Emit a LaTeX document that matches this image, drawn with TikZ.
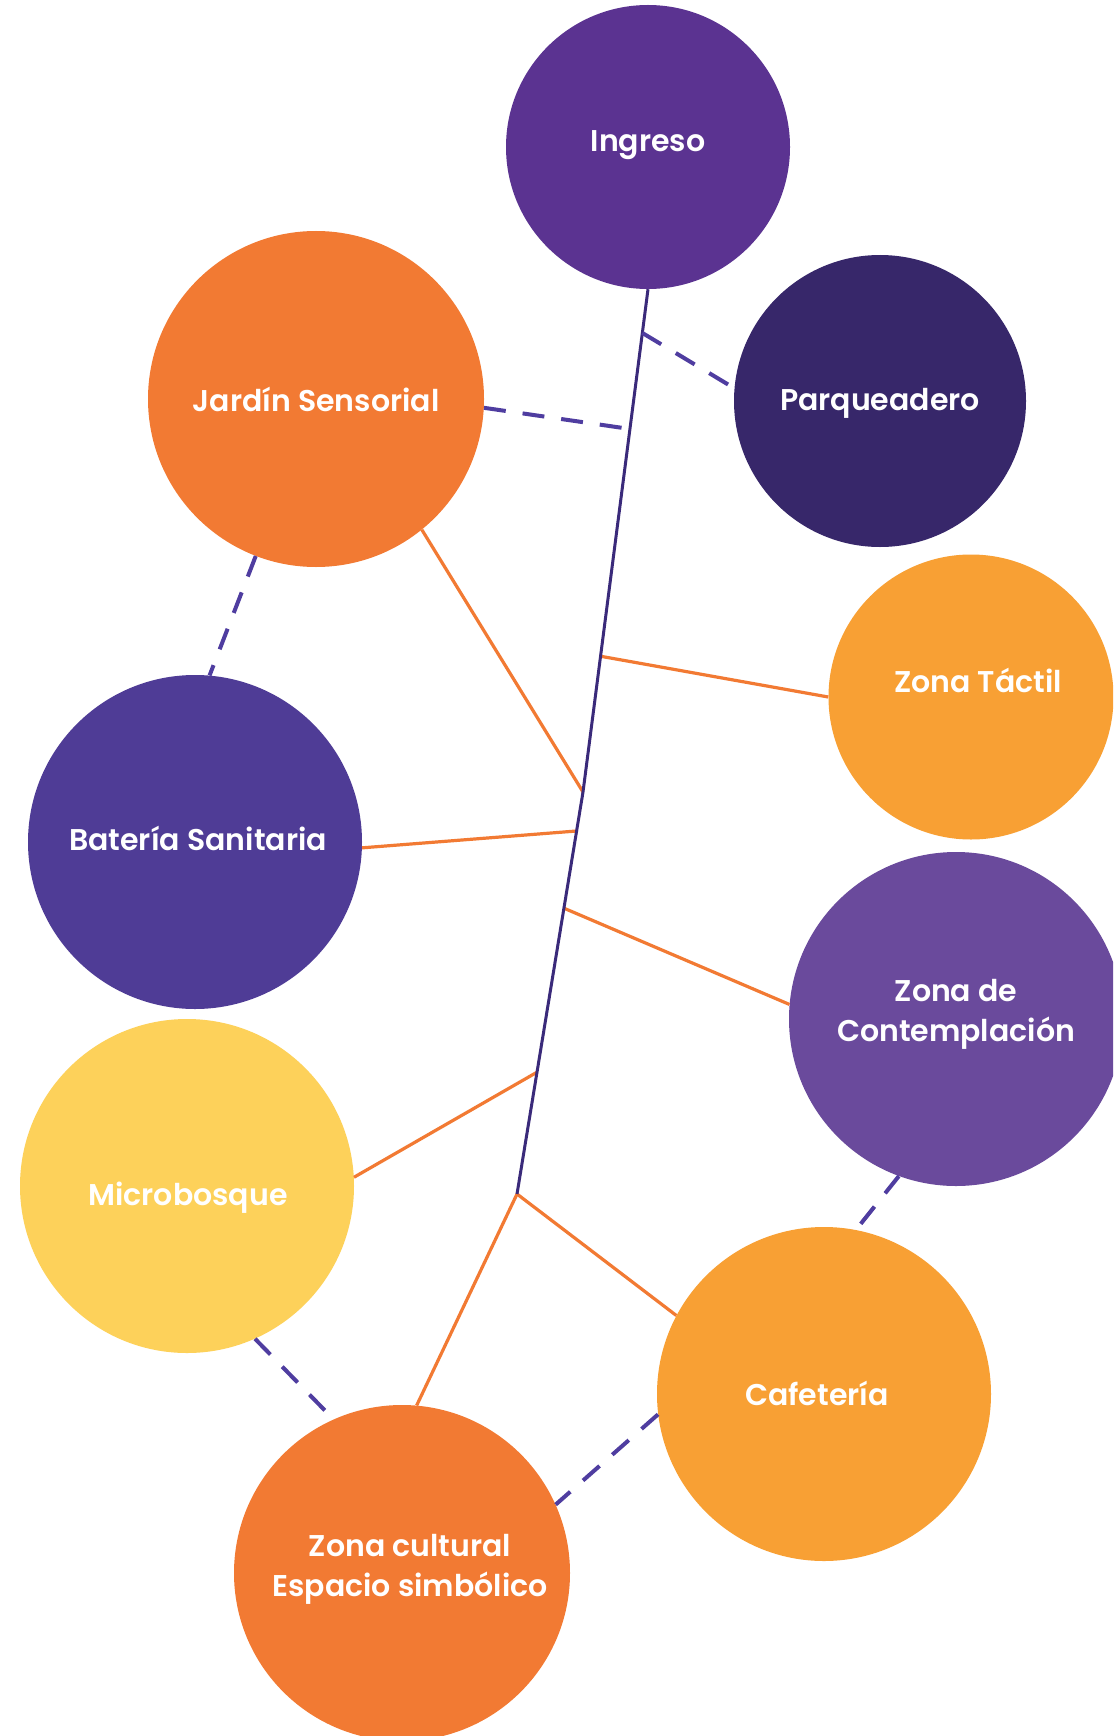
\documentclass[tikz,border=0pt]{standalone}
\usepackage{fontspec}
\setmainfont{Poppins SemiBold}
\usetikzlibrary{calc}
\definecolor{cIng}{HTML}{5B3391}
\definecolor{cPar}{HTML}{37276A}
\definecolor{cOr}{HTML}{F27A33}
\definecolor{cLo}{HTML}{F8A034}
\definecolor{cBat}{HTML}{4F3C96}
\definecolor{cCon}{HTML}{6A4A9C}
\definecolor{cYel}{HTML}{FDD15A}
\definecolor{cSpine}{HTML}{3A2A7A}
\definecolor{cDash}{HTML}{4F3DA0}
\tikzset{
  zone/.style={circle,inner sep=0pt},
  lbl/.style={inner sep=0pt,text=white,align=center,font=\fontsize{30}{40}\selectfont},
  spine/.style={draw=cSpine,line width=3pt},
  link/.style={draw=cOr,line width=3.2pt},
  dlink/.style={draw=cDash,line width=4pt,dash pattern=on 22pt off 17pt},
}
\begin{document}
\begin{tikzpicture}[x=1pt,y=-1pt]
\useasboundingbox (0,0) rectangle (1113,1736);
\clip (0,0) rectangle (1113,1736);
\fill[white] (0,0) rectangle (1113,1736);
% spine coordinates
\coordinate (s1) at (583,792);
\coordinate (s2) at (517,1194);
% circles
\node[zone,fill=cIng,minimum size=284pt] (ing) at (648,147) {};
\node[zone,fill=cPar,minimum size=292pt] (par) at (880,401) {};
\node[zone,fill=cOr,minimum size=336pt] (jar) at (316,399) {};
\node[zone,fill=cLo,minimum size=285pt] (tac) at (971,697) {};
\node[zone,fill=cBat,minimum size=334pt] (bat) at (195,842) {};
\node[zone,fill=cCon,minimum size=334pt] (con) at (956,1019) {};
\node[zone,fill=cYel,minimum size=334pt] (mic) at (187,1186) {};
\node[zone,fill=cLo,minimum size=334pt] (caf) at (824,1394) {};
\node[zone,fill=cOr,minimum size=336pt] (cul) at (402,1573) {};
% labels
\node[lbl] (ingL) at ($(ing)+(0,-2)$) {Ingreso};
\node[lbl] (parL) at ($(par)+(0,2)$) {Parqueadero};
\node[lbl] (jarL) at (jar) {Jardín Sensorial};
\node[lbl] (tacL) at ($(tac)+(7,-17)$) {Zona Táctil};
\node[lbl] (batL) at ($(bat)+(3,-4)$) {Batería Sanitaria};
\node[lbl] (conL) at ($(con)+(0,-5)$) {Zona de\\Contemplación};
\node[lbl] (micL) at ($(mic)+(1,12)$) {Microbosque};
\node[lbl] (cafL) at ($(caf)+(-7,-1)$) {Cafetería};
\node[lbl] (culL) at ($(cul)+(8,-4)$) {Zona cultural\\Espacio simbólico};
\coordinate (s0) at (ing.south);
\coordinate (bPar) at ($(s0)!0.087!(s1)$);
\coordinate (bJar) at ($(s0)!0.278!(s1)$);
\coordinate (bTac) at ($(s0)!0.73!(s1)$);
\coordinate (bBat) at ($(s1)!0.097!(s2)$);
\coordinate (bCon) at ($(s1)!0.289!(s2)$);
\coordinate (bMic) at ($(s1)!0.697!(s2)$);
% solid orange links
\draw[link] (jar.-51) -- (s1);
\draw[link] (bTac) -- (tac.west);
\draw[link] (bat.-2) -- (bBat);
\draw[link] (bCon) -- (con.175);
\draw[link] (mic.3) -- (bMic);
\draw[link] (s2) -- (caf.152);
\draw[link] (s2) -- (cul.85);
% spine
\draw[spine,line join=round] (s0) -- (s1) -- (s2);
% dashed links
\draw[dlink] (bPar) -- (par.175);
\draw[dlink] (jar.-3) -- (bJar);
\draw[dlink] (jar.-111) -- (bat.85.5);
\draw[dlink] (con.-110.6) -- (caf.79);
\draw[dlink] (mic.-66) -- (cul.114.7);
\draw[dlink] (caf.-173) -- (cul.24.7);
\end{tikzpicture}
\end{document}
